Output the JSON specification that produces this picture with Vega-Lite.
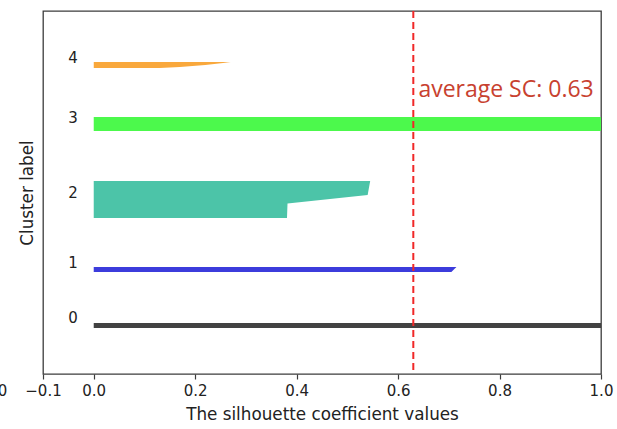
{
  "$schema": "https://vega.github.io/schema/vega-lite/v6.json",
  "width": 558,
  "height": 363,
  "autosize": {"type": "none"},
  "padding": {"left": 43, "top": 11, "right": 16, "bottom": 55},
  "background": "white",
  "config": {
    "font": "DejaVu Sans",
    "view": {"stroke": "#3c3c3c", "strokeWidth": 1.3}
  },
  "datasets": {
    "sil": [
      {"cluster": "0", "pos": 46, "v": 1.0},
      {"cluster": "0", "pos": 51, "v": 1.0},
      {"cluster": "1", "pos": 102, "v": 0.705},
      {"cluster": "1", "pos": 107, "v": 0.715},
      {"cluster": "2", "pos": 156, "v": 0.381},
      {"cluster": "2", "pos": 170.5, "v": 0.382},
      {"cluster": "2", "pos": 179, "v": 0.54},
      {"cluster": "2", "pos": 193, "v": 0.545},
      {"cluster": "3", "pos": 243, "v": 1.0},
      {"cluster": "3", "pos": 257, "v": 1.0},
      {"cluster": "4", "pos": 306, "v": 0.13},
      {"cluster": "4", "pos": 307, "v": 0.17},
      {"cluster": "4", "pos": 309, "v": 0.22},
      {"cluster": "4", "pos": 311, "v": 0.255},
      {"cluster": "4", "pos": 312, "v": 0.27}
    ],
    "labels": [
      {"label": "0", "x": -0.05, "pos": 51},
      {"label": "1", "x": -0.05, "pos": 106},
      {"label": "2", "x": -0.05, "pos": 176.5},
      {"label": "3", "x": -0.05, "pos": 251.5},
      {"label": "4", "x": -0.05, "pos": 311.5}
    ],
    "avg": [{"score": 0.63, "tx": 0.64, "ty": 277, "text": "average SC: 0.63"}],
    "stray": [{"text": "0", "x": -0.18, "pos": -22}]
  },
  "layer": [
    {
      "data": {"name": "sil"},
      "mark": {"type": "area", "orient": "horizontal", "opacity": 1},
      "encoding": {
        "y": {"field": "pos", "type": "quantitative", "sort": null, "scale": {"domain": [0, 363], "nice": false, "zero": false},
              "axis": {"title": "Cluster label", "labels": false, "ticks": false, "domain": false, "grid": false,
                       "titleFontSize": 16.8, "titleFont": "DejaVu Sans", "titleFontWeight": "normal", "titleColor": "#222", "titlePadding": 7}},
        "x": {"field": "v", "type": "quantitative", "stack": null, "scale": {"domain": [-0.1, 1.0], "nice": false, "zero": false},
              "axis": {"title": "The silhouette coefficient values", "values": [-0.1, 0, 0.2, 0.4, 0.6, 0.8, 1.0], "format": ".1f",
                       "grid": false, "domain": false, "tickSize": 5, "tickColor": "#3c3c3c", "tickWidth": 1.2,
                       "labelFontSize": 15, "labelColor": "#222", "labelPadding": 4, "labelFlush": false,
                       "titleFontSize": 16.8, "titleFontWeight": "normal", "titleColor": "#222", "titlePadding": 8}},
        "color": {"field": "cluster", "type": "nominal",
                  "scale": {"domain": ["0", "1", "2", "3", "4"], "range": ["#424242", "#3c3cdc", "#4cc4a8", "#4cf94c", "#f9a83c"]},
                  "legend": null}
      }
    },
    {
      "data": {"name": "labels"},
      "mark": {"type": "text", "align": "left", "baseline": "alphabetic", "fontSize": 15, "color": "#222"},
      "encoding": {
        "x": {"field": "x", "type": "quantitative"},
        "y": {"field": "pos", "type": "quantitative"},
        "text": {"field": "label"}
      }
    },
    {
      "data": {"name": "avg"},
      "mark": {"type": "rule", "color": "#f02828", "strokeWidth": 2, "strokeDash": [7, 4]},
      "encoding": {
        "x": {"field": "score", "type": "quantitative"}
      }
    },
    {
      "data": {"name": "avg"},
      "mark": {"type": "text", "align": "left", "baseline": "alphabetic", "fontSize": 23, "font": "Open Sans", "color": "#c8412f"},
      "encoding": {
        "x": {"field": "tx", "type": "quantitative"},
        "y": {"field": "ty", "type": "quantitative"},
        "text": {"field": "text"}
      }
    },
    {
      "data": {"name": "stray"},
      "mark": {"type": "text", "align": "center", "baseline": "alphabetic", "fontSize": 15, "color": "#222", "clip": false},
      "encoding": {
        "x": {"field": "x", "type": "quantitative"},
        "y": {"field": "pos", "type": "quantitative"},
        "text": {"field": "text"}
      }
    }
  ]
}
